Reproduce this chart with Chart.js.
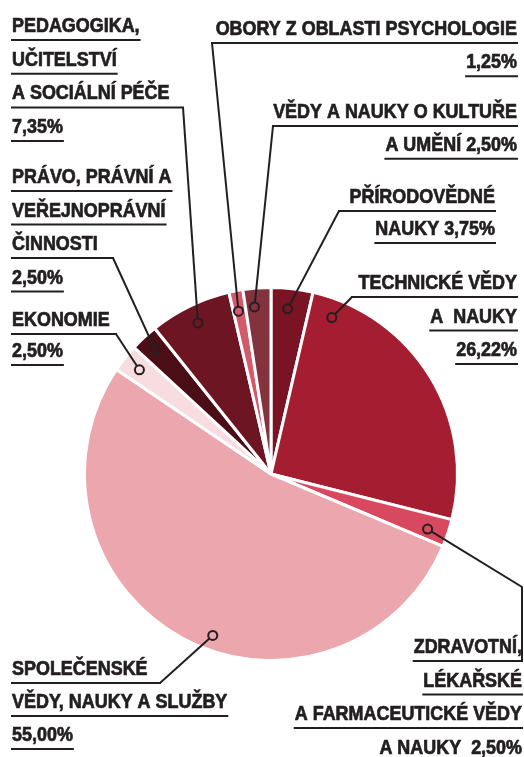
<!DOCTYPE html>
<html lang="cs">
<head>
<meta charset="utf-8">
<script src="https://cdn.jsdelivr.net/npm/chart.js@4.4.1/dist/chart.umd.min.js"></script>
<style>
  html, body { margin: 0; padding: 0; background: #fff; }
  #wrap { width: 524px; height: 757px; }
</style>
</head>
<body>
<div id="wrap"><canvas id="pieChart" width="524" height="757"></canvas></div>
<script>
// Slices, clockwise from 12 o'clock
const obory = [
    'Přírodovědné nauky',
    'Technické vědy a nauky',
    'Zdravotní, lékařské a farmaceutické vědy a nauky',
    'Společenské vědy, nauky a služby',
    'Ekonomie',
    'Právo, právní a veřejnoprávní činnosti',
    'Pedagogika, učitelství a sociální péče',
    'Obory z oblasti psychologie',
    'Vědy a nauky o kultuře a umění'
];
const podily = [3.75, 26.22, 2.50, 55.00, 2.50, 2.50, 7.35, 1.25, 2.50];
const barvy = ['#7a1424', '#a51d31', '#d8485e', '#eca6ae', '#f7dde0', '#4b0e17', '#6d1523', '#d4596b', '#85323f'];

// Label lines, {v} is replaced by the value
const popisky = [
    ['PŘÍRODOVĚDNÉ', 'NAUKY {v}'],
    ['TECHNICKÉ VĚDY', 'A  NAUKY', '{v}'],
    ['ZDRAVOTNÍ,', 'LÉKAŘSKÉ', 'A FARMACEUTICKÉ VĚDY', 'A NAUKY  {v}'],
    ['SPOLEČENSKÉ', 'VĚDY, NAUKY A SLUŽBY', '{v}'],
    ['EKONOMIE', '{v}'],
    ['PRÁVO, PRÁVNÍ A', 'VEŘEJNOPRÁVNÍ', 'ČINNOSTI', '{v}'],
    ['PEDAGOGIKA,', 'UČITELSTVÍ', 'A SOCIÁLNÍ PÉČE', '{v}'],
    ['OBORY Z OBLASTI PSYCHOLOGIE', '{v}'],
    ['VĚDY A NAUKY O KULTUŘE', 'A UMĚNÍ {v}']
];

// Where each label sits and where its leader joins the underline
const rozlozeni = [
    { align: 'right', x: 495, y: 203, lh: 32, join: 0, jx: 339, frac: 0.44, r: 0.89 },
    { align: 'right', x: 517, y: 289, lh: 33.5, join: 0, jx: 352, frac: 0.09, r: 0.9 },
    { align: 'right', x: 522, y: 653, lh: 33.5, join: 0, jx: 522, via: [522, 587], frac: 0.6, r: 0.89 },
    { align: 'left', x: 12, y: 675, lh: 33, join: 0, jx: 160, frac: 0.455, r: 0.92 },
    { align: 'left', x: 12, y: 326, lh: 31, join: 0, jx: 116, frac: 0.5, r: 0.9 },
    { align: 'left', x: 12, y: 183, lh: 33.5, join: 2, jx: 113, frac: 0.5, r: 0.915 },
    { align: 'left', x: 12, y: 32, lh: 33.7, join: 2, jx: 183, frac: 0.5, r: 0.9 },
    { align: 'right', x: 517, y: 35, lh: 33.3, join: 0, jx: 212, frac: 0.4, r: 0.89 },
    { align: 'right', x: 517, y: 118, lh: 32.7, join: 0, jx: 273, frac: 0.35, r: 0.9 }
];

const INK = '#231f20';
const FONT = 'bold 19.5px "Liberation Sans", Arial, sans-serif';
const SX = 0.92; // squeeze text horizontally

function formatHodnota(v) {
    return v.toFixed(2).replace('.', ',') + '%';
}

// Draws the labels, underlines, leader lines and slice markers
const popiskyPlugin = {
    id: 'popisky',
    afterDraw(chart) {
        const ctx = chart.ctx;
        const arcs = chart.getDatasetMeta(0).data;
        ctx.save();
        ctx.font = FONT;
        ctx.textBaseline = 'alphabetic';
        ctx.strokeStyle = INK;
        ctx.fillStyle = INK;

        rozlozeni.forEach((lay, i) => {
            const arc = arcs[i];
            const lines = popisky[i].map(t => t.replace('{v}', formatHodnota(podily[i])));
            let joinY = 0;

            lines.forEach((t, k) => {
                const y = lay.y + k * lay.lh;
                const w = ctx.measureText(t).width * SX;
                let x0 = lay.align === 'left' ? lay.x : lay.x - w;
                let x1 = x0 + w;
                ctx.save();
                ctx.translate(lay.x, y);
                ctx.scale(SX, 1);
                ctx.textAlign = lay.align;
                ctx.lineWidth = 0.7; // a bit heavier letters
                ctx.fillText(t, 0, 0);
                ctx.strokeText(t, 0, 0);
                ctx.restore();

                const uy = y + 8;
                if (k === lay.join) {
                    x0 = Math.min(x0, lay.jx);
                    x1 = Math.max(x1, lay.jx);
                    joinY = uy;
                }
                if (uy < chart.height) {
                    ctx.lineWidth = 2;
                    ctx.beginPath();
                    ctx.moveTo(x0 - 1, uy);
                    ctx.lineTo(x1 + 1, uy);
                    ctx.stroke();
                }
            });

            // marker point inside the slice
            const a = arc.startAngle + (arc.endAngle - arc.startAngle) * lay.frac;
            const rr = arc.outerRadius * lay.r;
            const mx = arc.x + Math.cos(a) * rr;
            const my = arc.y + Math.sin(a) * rr;

            ctx.lineWidth = 2;
            ctx.beginPath();
            ctx.moveTo(lay.jx, joinY);
            if (lay.via) ctx.lineTo(lay.via[0], lay.via[1]);
            ctx.lineTo(mx, my);
            ctx.stroke();

            ctx.beginPath();
            ctx.arc(mx, my, 4.5, 0, Math.PI * 2);
            ctx.fillStyle = barvy[i];
            ctx.fill();
            ctx.stroke();
            ctx.fillStyle = INK;
        });
        ctx.restore();
    }
};

const pieChart = new Chart(document.getElementById('pieChart').getContext('2d'), {
    type: 'pie',
    data: {
        labels: obory,
        datasets: [{
            data: podily,
            backgroundColor: barvy,
            borderColor: '#ffffff',
            borderWidth: 3
        }]
    },
    options: {
        responsive: false,
        animation: false,
        layout: {
            padding: { left: 83, right: 65, top: 286, bottom: 95 }
        },
        plugins: {
            legend: { display: false },
            tooltip: { enabled: false }
        }
    },
    plugins: [popiskyPlugin]
});
</script>
</body>
</html>
